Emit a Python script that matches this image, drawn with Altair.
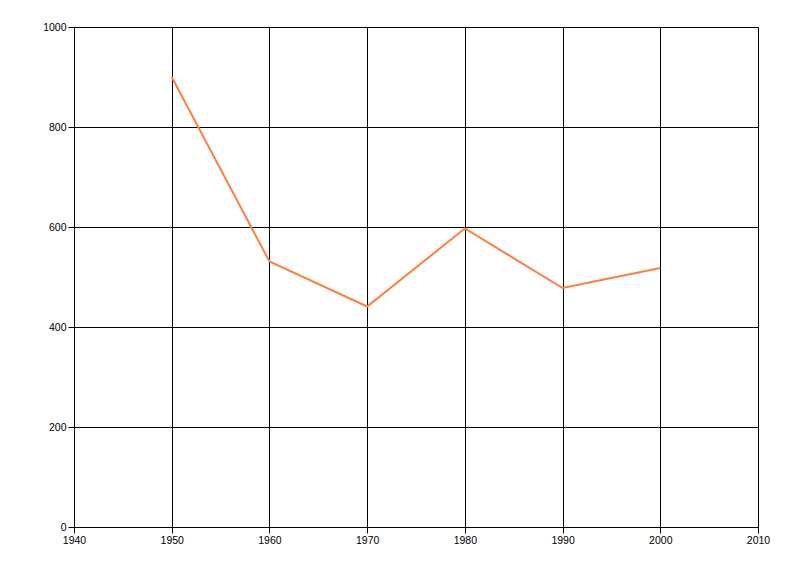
import altair as alt
import pandas as pd

years = [1950, 1960, 1970, 1980, 1990, 2000]
values = [900, 531, 441, 597, 478, 518]

df = pd.DataFrame({"year": years, "value": values})

axis_common = dict(
    grid=True, gridColor="black", gridWidth=1, gridOpacity=1,
    domain=True, domainColor="black", domainWidth=1,
    tickColor="black", tickSize=6, tickWidth=1,
    labelColor="black", labelFont="Liberation Sans", labelFontSize=10.5,
    labelFlush=False, format="d",
    title=None,
)

chart = alt.Chart(df).mark_line(color="#FF7F41", strokeWidth=2).encode(
    x=alt.X("year:Q", scale=alt.Scale(domain=[1940, 2010], nice=False, zero=False),
            axis=alt.Axis(values=list(range(1940, 2011, 10)),
                          labelPadding=2, **axis_common)),
    y=alt.Y("value:Q", scale=alt.Scale(domain=[0, 1000], nice=False),
            axis=alt.Axis(values=list(range(0, 1001, 200)), labelPadding=2, **axis_common)),
).properties(
    width=684, height=500,
    autosize=alt.AutoSizeParams(type="none"),
    padding={"left": 66, "top": 19, "right": 30, "bottom": 30},
).configure_view(stroke="black", strokeWidth=1).configure(background="white")

chart.save("out.html", embed_options={"renderer": "svg", "actions": False})
